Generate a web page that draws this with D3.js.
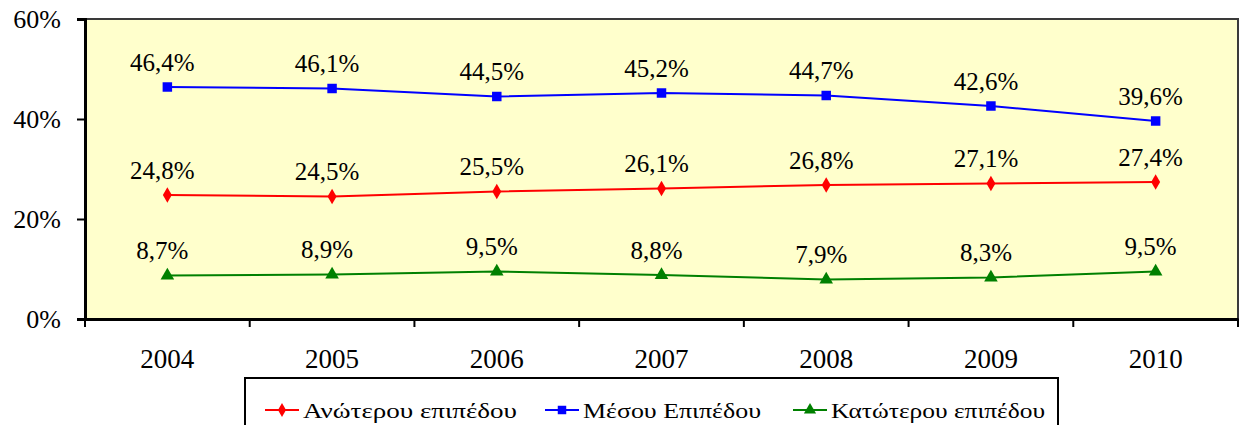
<!DOCTYPE html>
<html><head><meta charset="utf-8">
<script src="https://cdn.jsdelivr.net/npm/d3@7"></script>
<style>body{margin:0;background:#fff}svg{display:block}svg text{font-family:"Liberation Serif",serif !important;fill:#000}</style>
</head><body><svg id="c" width="1240" height="425"></svg>
<script>
const years = ["2004","2005","2006","2007","2008","2009","2010"];
const anoteroy = [24.8,24.5,25.5,26.1,26.8,27.1,27.4];
const mesoy = [46.4,46.1,44.5,45.2,44.7,42.6,39.6];
const katoteroy = [8.7,8.9,9.5,8.8,7.9,8.3,9.5];
const yTicks = [0,20,40,60];
const seriesNames = ["Ανώτερου επιπέδου","Μέσου Επιπέδου","Κατώτερου επιπέδου"];

const series = [
  {name:seriesNames[0], values:anoteroy, color:"#FF0000", marker:"diamond"},
  {name:seriesNames[1], values:mesoy, color:"#0000FF", marker:"square"},
  {name:seriesNames[2], values:katoteroy, color:"#008000", marker:"triangle"}
];
const fmt = v => v.toFixed(1).replace(".", ",") + "%";

const svg = d3.select("#c");
const L=85, R=1238, T=19, B=319;
const x = d3.scaleBand().domain(years).range([L,R]);
const y = d3.scaleLinear().domain([0,60]).range([B,T]);
const cx = d => x(d)+x.bandwidth()/2;

svg.append("rect").attr("x",L).attr("y",T).attr("width",R-L).attr("height",B-T)
  .attr("fill","#FFFFCC").attr("stroke","#3a3a3a").attr("stroke-width",2);

// y axis
const ya = svg.append("g").attr("transform",`translate(${L},0)`)
  .call(d3.axisLeft(y).tickValues(yTicks).tickFormat(d=>d+"%").tickSize(8).tickPadding(16));
ya.attr("font-family",null);
ya.select(".domain").attr("stroke","#000").attr("stroke-width",3);
ya.selectAll(".tick line").attr("stroke","#000").attr("stroke-width",2);
ya.selectAll("text").style("font-size","26px").attr("dy","0.33em");

// x axis
const xa = svg.append("g").attr("transform",`translate(0,${B})`)
  .call(d3.axisBottom(x).tickSize(0).tickPadding(30));
xa.attr("font-family",null);
xa.select(".domain").attr("stroke","#000").attr("stroke-width",3);
xa.selectAll("text").style("font-size","27px");
const bounds = years.map(d=>x(d)).concat([R]);
svg.append("g").selectAll("line").data(bounds).join("line")
  .attr("x1",d=>d).attr("x2",d=>d).attr("y1",B).attr("y2",B+8)
  .attr("stroke","#000").attr("stroke-width",2);

const sym = {diamond:d3.symbolDiamond, square:d3.symbolSquare, triangle:d3.symbolTriangle};
const symSize = {diamond:70, square:90, triangle:80};

series.forEach(s=>{
  const line = d3.line().x((v,i)=>cx(years[i])).y(v=>y(v));
  svg.append("path").datum(s.values).attr("d",line).attr("fill","none")
    .attr("stroke",s.color).attr("stroke-width",2);
  svg.append("g").selectAll("path").data(s.values).join("path")
    .attr("transform",(v,i)=>`translate(${cx(years[i])},${y(v)})`)
    .attr("d",d3.symbol(sym[s.marker],symSize[s.marker])).attr("fill",s.color);
  svg.append("g").selectAll("text").data(s.values).join("text")
    .attr("x",(v,i)=>cx(years[i])-5).attr("y",v=>y(v)-25).attr("dy","0.35em")
    .attr("text-anchor","middle").style("font-size","25px").text(fmt);
});

// legend
const lg = svg.append("g");
lg.append("rect").attr("x",245).attr("y",378).attr("width",813).attr("height",60)
  .attr("fill","#fff").attr("stroke","#000").attr("stroke-width",2);
const lx = [265,545,793], tw=[214,178,214];
series.forEach((s,i)=>{
  const g = lg.append("g").attr("transform",`translate(${lx[i]},410)`);
  g.append("line").attr("x1",0).attr("x2",34).attr("stroke",s.color).attr("stroke-width",2);
  g.append("path").attr("transform","translate(17,0)").attr("d",d3.symbol(sym[s.marker],symSize[s.marker]*0.8)).attr("fill",s.color);
  g.append("text").attr("x",38).attr("dy","0.35em").style("font-size","22px")
    .attr("textLength",tw[i]).attr("lengthAdjust","spacingAndGlyphs").text(s.name);
});
</script></body></html>
